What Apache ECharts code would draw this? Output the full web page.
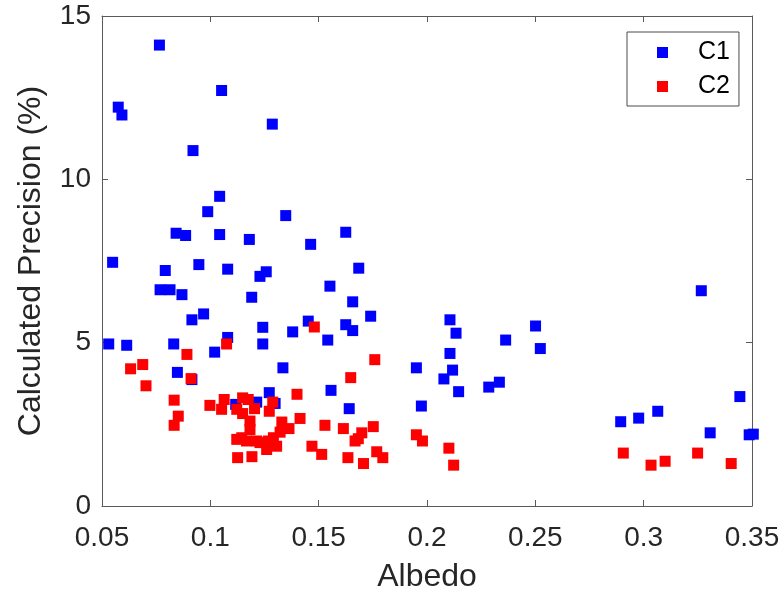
<!DOCTYPE html>
<html>
<head>
<meta charset="utf-8">
<script src="https://cdn.jsdelivr.net/npm/echarts@6/dist/echarts.min.js"></script>
<style>html,body{margin:0;padding:0;background:#fff;}#c{width:784px;height:598px;}</style>
</head>
<body>
<div id="c"></div>
<script>
var xTicks = [0.05, 0.1, 0.15, 0.2, 0.25, 0.3, 0.35];
var yTicks = [0, 5, 10, 15];
var seriesNames = ['C1', 'C2'];

var c1Albedo = [0.0765,0.0575,0.0592,0.1052,0.1286,0.0920,0.1043,0.0988,0.1348,0.0842,0.0886,0.1043,0.1180,0.1463,0.1625,
  0.0549,0.0792,0.0947,0.1080,0.1229,0.1258,0.0768,0.0814,0.0869,0.1191,0.0915,0.0969,0.1242,0.1380,0.1452,
  0.0531,0.0614,0.0831,0.1080,0.1242,0.1020,0.1335,0.0848,0.0915,0.1272,0.1214,0.1117,0.1299,
  0.1685,0.1552,0.1657,0.1740,0.1625,0.1657,0.1542,0.2106,0.2134,0.2106,0.2118,0.2078,0.2146,0.1951,0.1974,0.1557,0.1641,
  0.2285,0.2334,0.2363,0.2501,0.2523,0.3266,0.3444,0.2894,0.2977,0.3065,0.3307,0.3487,0.3506];
var c1Precision = [14.11,12.21,11.97,12.72,11.69,10.88,9.48,9.01,8.89,8.35,8.28,8.31,8.16,8.01,8.38,
  7.46,7.21,7.39,7.25,7.03,7.17,6.62,6.62,6.47,6.39,5.70,5.88,5.47,5.33,5.66,
  4.96,4.92,4.96,5.16,4.96,4.71,4.23,4.09,3.87,3.47,3.18,3.11,3.14,
  7.28,6.73,6.25,5.81,5.55,5.37,5.08,5.70,5.29,4.67,4.16,3.89,3.50,4.23,3.06,3.54,2.98,
  3.64,3.79,5.08,5.51,4.82,6.59,3.35,2.58,2.69,2.90,2.24,2.18,2.20];

var c2Albedo = [0.1075,0.0892,0.0632,0.0688,0.0703,0.0911,0.0833,0.0852,0.0833,0.0998,0.1064,0.1052,0.1122,0.1149,0.1175,
  0.1149,0.1204,0.1183,0.1183,0.1288,0.1272,0.1330,0.1363,0.1322,0.1400,0.1414,
  0.1122,0.1145,0.1167,0.1214,0.1229,0.1268,0.1291,0.1306,0.1260,0.1126,0.1192,0.1469,
  0.1480,0.1759,0.1648,0.1529,0.1614,0.1699,0.1683,0.1668,0.1752,0.1514,0.1635,0.1707,0.1768,0.1796,
  0.1951,0.1979,0.2101,0.2123,0.2906,0.3034,0.3099,0.3249,0.3404];
var c2Precision = [4.96,4.64,4.20,4.33,3.68,3.90,3.24,2.75,2.47,3.08,3.26,2.96,2.96,3.31,3.26,
  2.83,2.98,2.60,2.34,3.18,2.90,2.57,2.37,2.26,3.42,2.68,
  2.04,2.09,1.99,1.99,1.94,1.99,2.09,1.83,1.73,1.48,1.51,1.83,
  5.48,4.48,3.93,2.47,2.37,2.24,2.06,1.99,2.43,1.58,1.48,1.30,1.66,1.48,
  2.18,1.99,1.77,1.25,1.62,1.25,1.37,1.62,1.30];

function zip(a, b) { return a.map(function (v, i) { return [v, b[i]]; }); }

var FONT = 'Liberation Sans';
var axisColor = '#5a5a5a';
var textColor = '#262626';

function xAx(pos, show) {
  return {
    type: 'value', position: pos, min: xTicks[0], max: xTicks[xTicks.length - 1], interval: 0.05,
    axisLine: { show: true, onZero: false, lineStyle: { color: axisColor, width: 1 } },
    axisTick: { show: true, inside: true, length: 6, lineStyle: { color: axisColor } },
    axisLabel: { show: show, margin: 18, color: textColor, fontFamily: FONT, fontSize: 28,
      formatter: function (v) { return String(+v.toFixed(2)); } },
    splitLine: { show: false },
    name: show ? 'Albedo' : '', nameLocation: 'middle', nameGap: 55,
    nameTextStyle: { color: textColor, fontFamily: FONT, fontSize: 32 }
  };
}
function yAx(pos, show) {
  return {
    type: 'value', position: pos, min: yTicks[0], max: yTicks[yTicks.length - 1], interval: 5,
    axisLine: { show: true, onZero: false, lineStyle: { color: axisColor, width: 1 } },
    axisTick: { show: true, inside: true, length: 6, lineStyle: { color: axisColor } },
    axisLabel: { show: show, margin: 11, color: textColor, fontFamily: FONT, fontSize: 28 },
    splitLine: { show: false },
    name: show ? 'Calculated Precision (%)' : '', nameLocation: 'middle', nameGap: 55,
    nameTextStyle: { color: textColor, fontFamily: FONT, fontSize: 32 }
  };
}

var chart = echarts.init(document.getElementById('c'), null, { renderer: 'canvas' });
chart.setOption({
  animation: false,
  backgroundColor: '#fff',
  grid: { left: 102, right: 32, top: 16, bottom: 91, containLabel: false },
  xAxis: [xAx('bottom', true), xAx('top', false)],
  yAxis: [yAx('left', true), yAx('right', false)],
  legend: {
    orient: 'vertical', left: 627, top: 32,
    data: seriesNames,
    icon: 'rect', itemWidth: 11, itemHeight: 11, itemGap: 9,
    padding: [8, 9, 7, 30],
    borderColor: '#4a4a4a', borderWidth: 1, backgroundColor: '#fff',
    textStyle: { color: '#000', fontFamily: FONT, fontSize: 25, lineHeight: 25, padding: [0, 0, 0, 25] }
  },
  series: [
    { name: seriesNames[0], type: 'scatter', symbol: 'rect', symbolSize: 11, clip: false,
      itemStyle: { color: '#0000ff', opacity: 1 }, data: zip(c1Albedo, c1Precision) },
    { name: seriesNames[1], type: 'scatter', symbol: 'rect', symbolSize: 11, clip: false,
      itemStyle: { color: '#ff0000', opacity: 1 }, data: zip(c2Albedo, c2Precision) }
  ]
});
</script>
</body>
</html>
